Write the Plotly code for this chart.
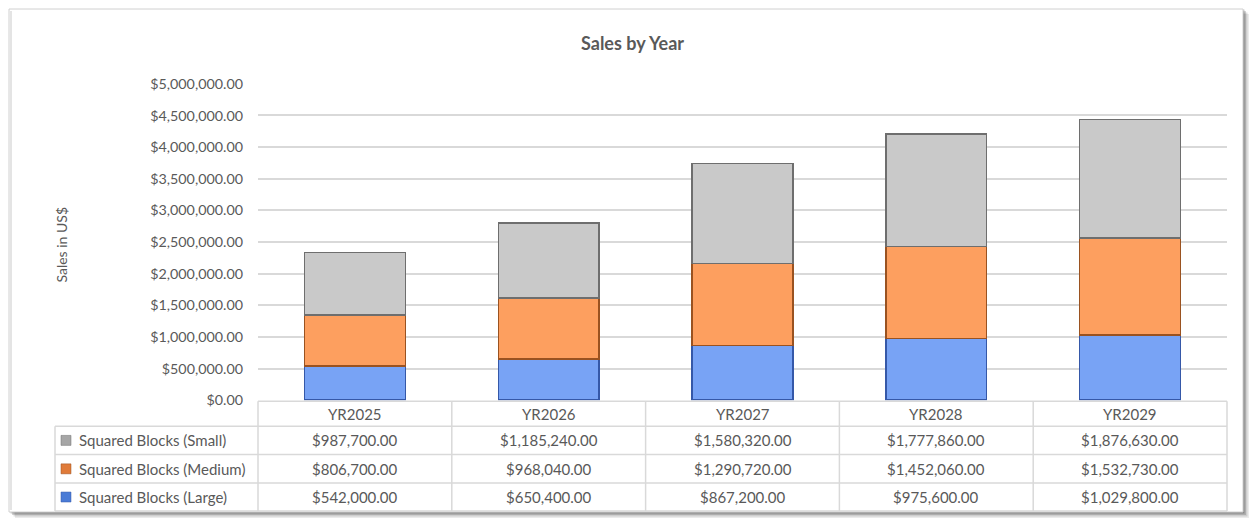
import plotly.graph_objects as go

years = ["YR2025", "YR2026", "YR2027", "YR2028", "YR2029"]
large = [542000, 650400, 867200, 975600, 1029800]
medium = [806700, 968040, 1290720, 1452060, 1532730]
small = [987700, 1185240, 1580320, 1777860, 1876630]

series_names = ["Squared Blocks (Small)", "Squared Blocks (Medium)", "Squared Blocks (Large)"]
series_vals = [small, medium, large]
fill_colors = ["#c9c9c9", "#fd9f5f", "#78a3f5"]
line_colors = ["#6e6e6e", "#9a5220", "#3558a8"]
key_colors = ["#a6a6a6", "#e07b39", "#4a7bd6"]

W, H = 1252, 521
# vertical mapping compensates for how the page is photographed (8px offset, 505px effective)
VH, VOFF = 505, 8
def px(x):
    return x / W
def py(y):
    return min(1.0, 1 - (y - VOFF) / VH)

FONT = "Lato"
TXT = "#595959"
GRID = "#d9d9d9"

fig = go.Figure()
# stack from bottom: Large, Medium, Small
for i in [2, 1, 0]:
    fig.add_trace(go.Bar(
        x=years, y=series_vals[i], name=series_names[i],
        marker=dict(color=fill_colors[i], line=dict(color=line_colors[i], width=1.5)),
        showlegend=False, hoverinfo="skip",
    ))

shapes = []
annotations = []

# chart frame shadow + frame
for k, op in enumerate([0.08, 0.12, 0.16, 0.20]):
    off = 6 - k * 1.5
    shapes.append(dict(type="rect", xref="paper", yref="paper",
                       x0=px(9 + off), x1=px(1243 + off), y0=py(512 + off), y1=py(7 + off),
                       line=dict(width=0), fillcolor=f"rgba(0,0,0,{op})", layer="below"))
shapes.append(dict(type="rect", xref="paper", yref="paper",
                   x0=px(9), x1=px(1243), y0=py(512), y1=py(8),
                   line=dict(color="#d0d0d0", width=1), fillcolor="white", layer="below"))
shapes.append(dict(type="line", xref="paper", yref="paper",
                   x0=px(11), x1=px(11), y0=py(510), y1=py(10),
                   line=dict(color="#e4e4e4", width=2), layer="below"))

# data table lines
tx0, tx1 = 258, 1227
lx0 = 55
row_y = [401, 426, 454.5, 483, 511]
shapes.append(dict(type="line", xref="paper", yref="paper", x0=px(tx0), x1=px(tx1),
                   y0=py(row_y[0]), y1=py(row_y[0]), line=dict(color=GRID, width=1.5)))
for ry in row_y[1:]:
    shapes.append(dict(type="line", xref="paper", yref="paper", x0=px(lx0), x1=px(tx1),
                       y0=py(ry), y1=py(ry), line=dict(color=GRID, width=1.5)))
shapes.append(dict(type="line", xref="paper", yref="paper", x0=px(lx0), x1=px(lx0),
                   y0=py(row_y[1]), y1=py(row_y[-1]), line=dict(color=GRID, width=1.5)))
ncat = len(years)
for j in range(ncat + 1):
    xx = tx0 + (tx1 - tx0) * j / ncat
    shapes.append(dict(type="line", xref="paper", yref="paper", x0=px(xx), x1=px(xx),
                       y0=py(row_y[0]), y1=py(row_y[-1]), line=dict(color=GRID, width=1.5)))

TBL = 15
# header labels
for yr in years:
    annotations.append(dict(x=yr, xref="x", y=py((row_y[0] + row_y[1]) / 2), yref="paper",
                            xanchor="center", yanchor="middle",
                            text=yr, showarrow=False, font=dict(family=FONT, size=TBL, color=TXT)))
# rows
for r, (name, vals) in enumerate(zip(series_names, series_vals)):
    ycp = (row_y[r + 1] + row_y[r + 2]) / 2
    yc = py(ycp)
    shapes.append(dict(type="rect", xref="paper", yref="paper",
                       x0=px(61), x1=px(71), y0=py(ycp + 5), y1=py(ycp - 5),
                       line=dict(color=line_colors[r], width=0.5), fillcolor=key_colors[r]))
    annotations.append(dict(x=px(77), xref="paper", y=yc, yref="paper",
                            xanchor="left", yanchor="middle",
                            text=name, showarrow=False, font=dict(family=FONT, size=TBL, color=TXT)))
    for yr, v in zip(years, vals):
        annotations.append(dict(x=yr, xref="x", y=yc, yref="paper",
                                xanchor="center", yanchor="middle",
                                text=f"${v:,.2f}", showarrow=False,
                                font=dict(family=FONT, size=TBL, color=TXT)))

# title & axis title
annotations.append(dict(x=px(632), xref="paper", y=py(42), yref="paper", text="<b>Sales by Year</b>",
                        xanchor="center", yanchor="middle",
                        showarrow=False, font=dict(family=FONT, size=18, color=TXT)))
annotations.append(dict(x=px(62), xref="paper", y=py(244), yref="paper", text="Sales in US$",
                        xanchor="center", yanchor="middle",
                        textangle=-90, showarrow=False, font=dict(family=FONT, size=14, color=TXT)))

fig.update_layout(
    width=W, height=H,
    margin=dict(l=0, r=0, t=0, b=0),
    paper_bgcolor="white", plot_bgcolor="rgba(0,0,0,0)",
    barmode="stack", bargap=0.48,
    shapes=shapes, annotations=annotations,
    font=dict(family=FONT, color=TXT, size=14),
    xaxis=dict(domain=[px(tx0), px(tx1)], showticklabels=False, showgrid=False,
               zeroline=False, showline=False, ticks=""),
    yaxis=dict(domain=[py(400), py(83)], range=[0, 5000000], dtick=500000,
               tickformat="$,.2f", showgrid=True, gridcolor=GRID, gridwidth=1.5,
               zeroline=False, showline=False, ticks="", ticklabelstandoff=14,
               tickfont=dict(family=FONT, size=14.3, color=TXT)),
)

fig.write_html(
    "out.html",
    config={"displayModeBar": False},
    post_script="document.body.style.margin='0';document.body.style.overflow='hidden';",
)
